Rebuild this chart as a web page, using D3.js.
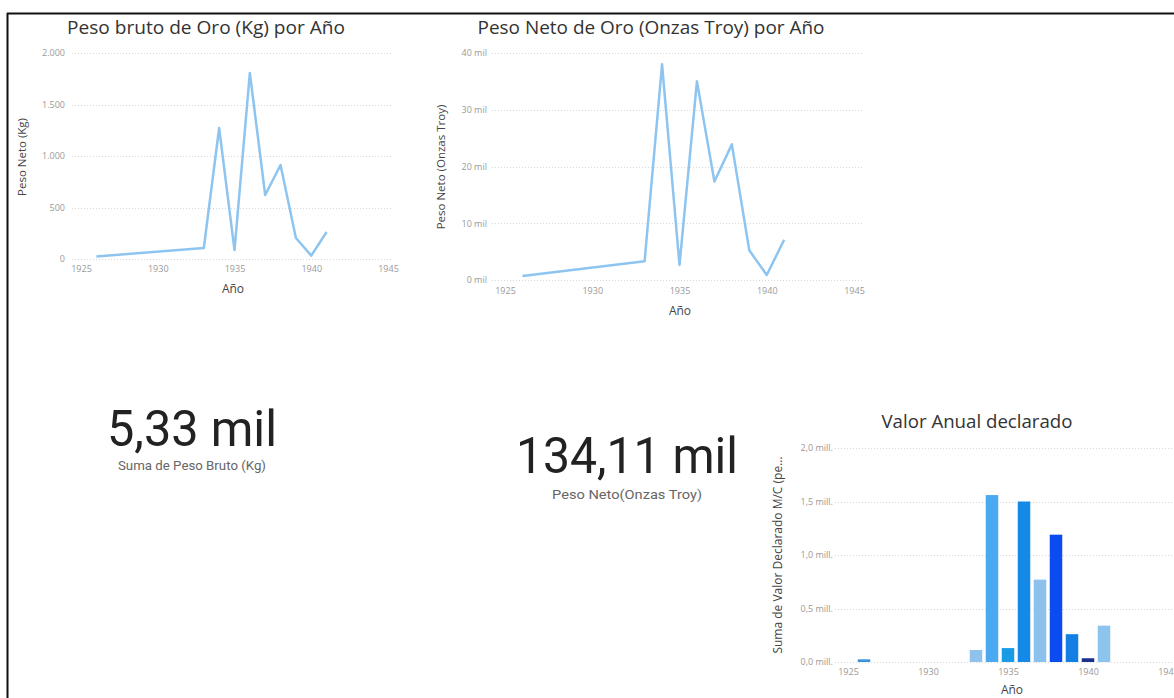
<!DOCTYPE html>
<html><head><meta charset="utf-8">
<script src="https://cdn.jsdelivr.net/npm/d3@7/dist/d3.min.js"></script>
<style>
html,body{margin:0;padding:0;background:#fff;}
svg{display:block;}
</style></head>
<body>
<svg id="chart" width="1174" height="698"></svg>
<script>
// ---- data ----
const years = [1926, 1933, 1934, 1935, 1936, 1937, 1938, 1939, 1940, 1941];
const pesoBrutoKg = [25, 107, 1272, 87, 1806, 621, 913, 204, 33, 262];
const pesoNetoOz = [700, 3300, 38000, 2650, 35000, 17350, 23900, 5230, 880, 7100];
const valorDeclarado = [25000, 112000, 1560000, 130000, 1500000, 770000, 1190000, 260000, 35000, 340000];
const xTicks = [1925, 1930, 1935, 1940, 1945];
const kgTicks = [0, 500, 1000, 1500, 2000];
const ozTicks = [0, 10000, 20000, 30000, 40000];
const valTicks = [0, 500000, 1000000, 1500000, 2000000];
const titles = ["Peso bruto de Oro (Kg) por Año", "Peso Neto de Oro (Onzas Troy) por Año", "Valor Anual declarado"];
const kpiValues = ["5,33 mil", "134,11 mil"];
const kpiLabels = ["Suma de Peso Bruto (Kg)", "Peso Neto(Onzas Troy)"];
// bar fill palette (style, per bar in order)
const barColors = ["#3b93dc", "#8fc3ee", "#4aa9f0", "#1a9be6", "#1489e6", "#8cc1ee", "#0a4cf0", "#137fe4", "#1c2f8a", "#8cc4ee"];

const es = d3.formatLocale({decimal: ",", thousands: ".", grouping: [3], currency: ["$", ""]});
const fmtKg = es.format(",.0f");
const fmtMill = es.format(".1f");

const svg = d3.select("#chart");
const FONT = "'Open Sans', 'Noto Sans', sans-serif";
const lineColor = "#8ec5f0";

// frame lines
svg.append("line").attr("x1", 7).attr("x2", 1174).attr("y1", 13.5).attr("y2", 13.5).attr("stroke", "#111").attr("stroke-width", 2);
svg.append("line").attr("x1", 7.5).attr("x2", 7.5).attr("y1", 13).attr("y2", 698).attr("stroke", "#111").attr("stroke-width", 2);

function panel(cfg) {
  const g = svg.append("g");
  g.append("text").attr("x", cfg.titleX).attr("y", cfg.titleY).attr("text-anchor", "middle")
    .attr("font-family", FONT).attr("font-size", 18).attr("fill", "#333")
    .attr("textLength", cfg.titleW).attr("lengthAdjust", "spacingAndGlyphs").text(cfg.title);
  g.selectAll("line.grid").data(cfg.yTicks).enter().append("line")
    .attr("x1", cfg.gridX0).attr("x2", cfg.gridX1)
    .attr("y1", d => Math.round(cfg.y(d)) + 0.5).attr("y2", d => Math.round(cfg.y(d)) + 0.5)
    .attr("stroke", "#d8d8d8").attr("stroke-width", 1).attr("stroke-dasharray", "1,2");
  const ya = g.append("g").attr("transform", `translate(${cfg.yLabelX},0)`)
    .call(d3.axisLeft(cfg.y).tickValues(cfg.yTicks).tickFormat(cfg.yFmt).tickSize(0).tickPadding(0));
  ya.select(".domain").remove();
  ya.selectAll("text").attr("font-family", FONT).attr("font-size", cfg.tickSize).attr("fill", "#999");
  const xa = g.append("g").attr("transform", `translate(0,${cfg.xLabelY})`)
    .call(d3.axisBottom(cfg.x).tickValues(xTicks).tickFormat(d3.format("d")).tickSize(0).tickPadding(0));
  xa.select(".domain").remove();
  xa.selectAll("text").attr("font-family", FONT).attr("font-size", cfg.tickSize).attr("fill", "#999");
  g.append("text").attr("x", cfg.xTitleX).attr("y", cfg.xTitleY).attr("text-anchor", "middle")
    .attr("font-family", FONT).attr("font-size", 12).attr("fill", "#444").text("Año");
  g.append("text").attr("transform", `translate(${cfg.yTitleX},${cfg.yTitleY}) rotate(-90)`)
    .attr("text-anchor", "middle").attr("font-family", FONT).attr("font-size", cfg.yTitleSize).attr("fill", "#444")
    .text(cfg.yTitle);
  return g;
}

// ---- chart 1 ----
const x1 = d3.scaleLinear().domain([1925, 1945]).range([81, 388]);
const y1 = d3.scaleLinear().domain([0, 2000]).range([259, 53]);
const g1 = panel({title: titles[0], titleX: 206, titleY: 34, titleW: 278, x: x1, y: y1, yTicks: kgTicks, yFmt: fmtKg,
  gridX0: 72, gridX1: 393, yLabelX: 65, xLabelY: 266, tickSize: 9, xTitleX: 233, xTitleY: 293,
  yTitleX: 26, yTitleY: 157, yTitleSize: 11.5, yTitle: "Peso Neto (Kg)"});
g1.append("path").datum(years.map((yr, i) => [yr, pesoBrutoKg[i]]))
  .attr("fill", "none").attr("stroke", lineColor).attr("stroke-width", 2.5).attr("stroke-linejoin", "round")
  .attr("d", d3.line().x(d => x1(d[0])).y(d => y1(d[1])));

// ---- chart 2 ----
const x2 = d3.scaleLinear().domain([1925, 1945]).range([505, 854]);
const y2 = d3.scaleLinear().domain([0, 40000]).range([280, 53]);
const g2 = panel({title: titles[1], titleX: 651, titleY: 34, titleW: 347, x: x2, y: y2, yTicks: ozTicks, yFmt: d => (d / 1000) + " mil",
  gridX0: 492, gridX1: 863, yLabelX: 487, xLabelY: 288, tickSize: 9, xTitleX: 680, xTitleY: 315,
  yTitleX: 445, yTitleY: 167, yTitleSize: 11.5, yTitle: "Peso Neto (Onzas Troy)"});
g2.append("path").datum(years.map((yr, i) => [yr, pesoNetoOz[i]]))
  .attr("fill", "none").attr("stroke", lineColor).attr("stroke-width", 2.5).attr("stroke-linejoin", "round")
  .attr("d", d3.line().x(d => x2(d[0])).y(d => y2(d[1])));

// ---- chart 3 ----
const x3 = d3.scaleLinear().domain([1925, 1945]).range([848, 1168]);
const y3 = d3.scaleLinear().domain([0, 2000000]).range([662, 448]);
const g3 = panel({title: titles[2], titleX: 977, titleY: 428, titleW: 191, x: x3, y: y3, yTicks: valTicks, yFmt: d => fmtMill(d / 1e6) + " mill.",
  gridX0: 835, gridX1: 1174, yLabelX: 833, xLabelY: 669, tickSize: 9, xTitleX: 1012, xTitleY: 694,
  yTitleX: 782, yTitleY: 555, yTitleSize: 12, yTitle: "Suma de Valor Declarado M/C (pe..."});
const bw = 12.5;
g3.selectAll("rect.bar").data(years).enter().append("rect")
  .attr("x", d => x3(d) - bw / 2).attr("width", bw)
  .attr("y", (d, i) => y3(valorDeclarado[i])).attr("height", (d, i) => y3(0) - y3(valorDeclarado[i]))
  .attr("fill", (d, i) => barColors[i]);

// ---- KPI cards ----
const KFONT = "Roboto, 'DejaVu Sans Condensed', sans-serif";
const kpis = [{cx: 192, y: 446, w: 170, ly: 470, lw: 148}, {cx: 627, y: 473, w: 222, ly: 499, lw: 150}];
kpis.forEach((k, i) => {
  svg.append("text").attr("x", k.cx).attr("y", k.y).attr("text-anchor", "middle")
    .attr("font-family", KFONT).attr("font-size", 50).attr("fill", "#222")
    .attr("textLength", k.w).attr("lengthAdjust", "spacingAndGlyphs").text(kpiValues[i]);
  svg.append("text").attr("x", k.cx).attr("y", k.ly).attr("text-anchor", "middle")
    .attr("font-family", KFONT).attr("font-size", 13).attr("fill", "#666")
    .attr("textLength", k.lw).attr("lengthAdjust", "spacingAndGlyphs").text(kpiLabels[i]);
});
</script>
</body></html>
